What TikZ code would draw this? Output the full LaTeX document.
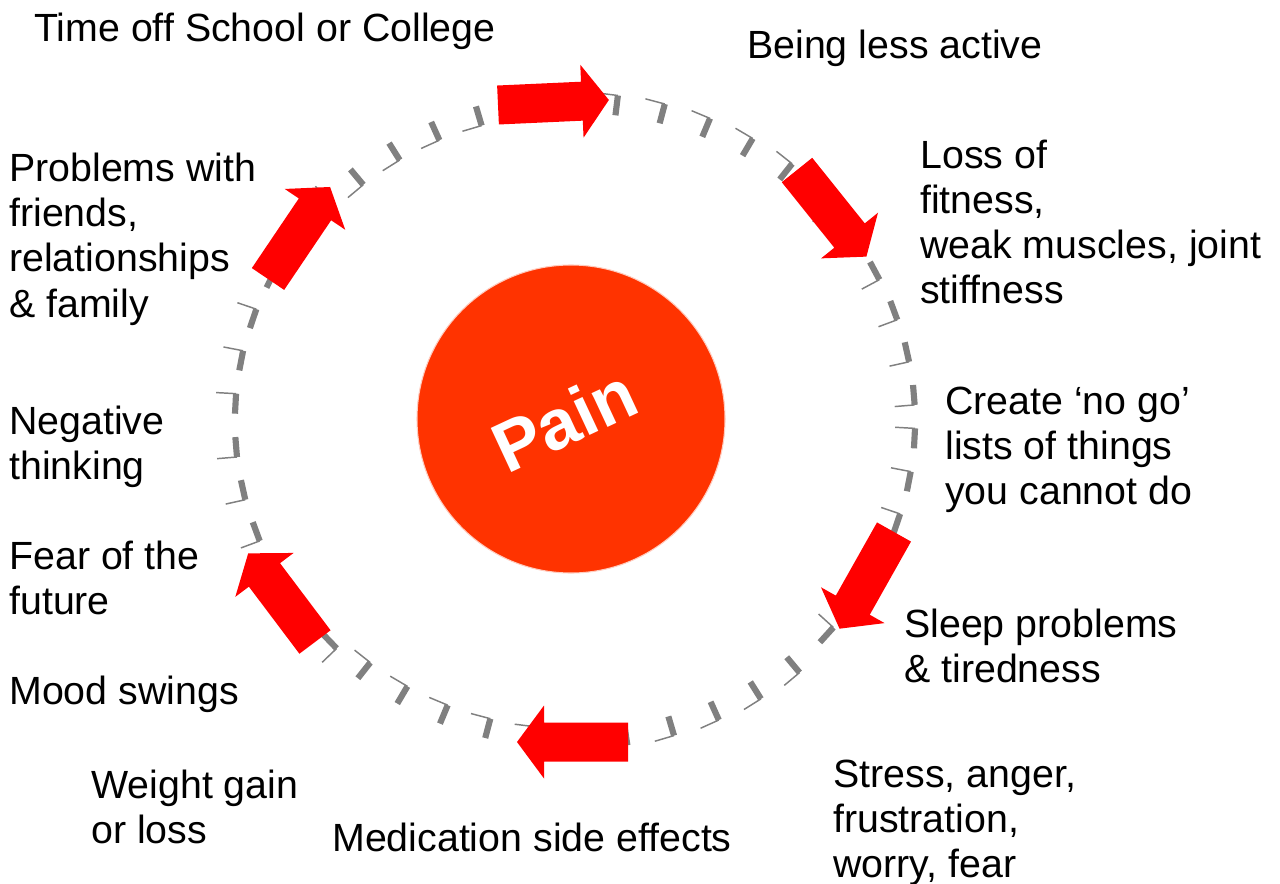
\documentclass[tikz,border=0pt]{standalone}
\usepackage{fontspec}
\setmainfont{Liberation Sans}
\definecolor{arrowred}{HTML}{FF0000}
\definecolor{painred}{HTML}{FF3300}
\definecolor{markgray}{HTML}{808080}
\newcommand\blockarrow[3]{%
  \begin{scope}[shift={(#1,#2)},rotate=#3]
    \fill[arrowred] (0,-19.5) -- (84,-19.5) -- (84,-36.5) -- (111,0) -- (84,36.5) -- (84,19.5) -- (0,19.5) -- cycle;
  \end{scope}}
\begin{document}
\begin{tikzpicture}[x=0.75pt,y=-0.75pt,
  lbl/.style={anchor=base west,inner sep=0pt,font=\fontsize{29.5}{33.75}\selectfont},
  markbar/.style={draw=markgray,line width=4.6pt},
  markthin/.style={draw=markgray,line width=1.1pt}]
\useasboundingbox (0,0) rectangle (1280,884);
\fill[white] (0,0) rectangle (1280,884);

% dashed ring marks
\foreach \k in {0,...,45}{
  \pgfmathsetmacro\ph{4.7+7.826*\k}
  \pgfmathsetmacro\c{cos(\ph)}
  \pgfmathsetmacro\s{sin(\ph)}
  \pgfmathsetmacro\px{575+340*(\c)}
  \pgfmathsetmacro\py{421-318*(\s)}
  \pgfmathsetmacro\side{abs(\c)>=abs(\s)?1:0}
  \pgfmathsetmacro\bx{\side>0.5?(-1)*(\s):(\c)}
  \pgfmathsetmacro\by{\side>0.5?(-1)*(\c):(-1)*(\s)}
  \pgfmathsetmacro\sg{\bx>=0?1:-1}
  \pgfmathsetmacro\jx{\px+10*(\sg)*(\bx)}
  \pgfmathsetmacro\jy{\py+10*(\sg)*(\by)}
  \pgfmathsetmacro\ex{\px-10*(\sg)*(\bx)}
  \pgfmathsetmacro\ey{\py-10*(\sg)*(\by)}
  \pgfmathsetmacro\tx{-20*abs(\by)}
  \pgfmathsetmacro\ty{\by>=0?20*(\bx):(-20)*(\bx)}
  \draw[markthin] (\jx,\jy) -- ++(\tx,\ty);
  \draw[markbar] (\ex,\ey) -- (\jx,\jy);
}

% red block arrows
\blockarrow{498}{105}{2.6}
\blockarrow{797}{170}{-51.3}
\blockarrow{894}{532}{-119.4}
\blockarrow{628}{742}{180}
\blockarrow{315}{642}{127}
\blockarrow{268}{279}{56}

% central circle
\node (pain) [circle,minimum size=231pt,inner sep=0pt,fill=painred,draw=painred!25,line width=0.8pt] at (571,419) {};
\node (paintext) [rotate=25,text=white,inner sep=0pt,font=\fontsize{53}{60}\selectfont\bfseries] at (564,420) {Pain};

% labels
\node[lbl] (school) at (34,42) {Time off School or College};
\node[lbl] (active) at (747,59) {Being less active};
\node[lbl] (fitness) at (920,169) {\begin{tabular}[t]{@{}l@{}}Loss of\\ fitness,\\ weak muscles, joint\\ stiffness\end{tabular}};
\node[lbl] (nogo) at (945,414) {\begin{tabular}[t]{@{}l@{}}Create ‘no go’\\ lists of things\\ you cannot do\end{tabular}};
\node[lbl] (sleep) at (904,637) {\begin{tabular}[t]{@{}l@{}}Sleep problems\\ \& tiredness\end{tabular}};
\node[lbl] (stress) at (833,787) {\begin{tabular}[t]{@{}l@{}}Stress, anger,\\ frustration,\\ worry, fear\end{tabular}};
\node[lbl] (medication) at (332,851) {Medication side effects};
\node[lbl] (weight) at (91,798) {\begin{tabular}[t]{@{}l@{}}Weight gain\\ or loss\end{tabular}};
\node[lbl] (mood) at (9,704) {Mood swings};
\node[lbl] (fear) at (9,569) {\begin{tabular}[t]{@{}l@{}}Fear of the\\ future\end{tabular}};
\node[lbl] (negative) at (9,434) {\begin{tabular}[t]{@{}l@{}}Negative\\ thinking\end{tabular}};
\node[lbl] (problems) at (9,182) {\begin{tabular}[t]{@{}l@{}}Problems with\\ friends,\\ relationships\\ \& family\end{tabular}};
\end{tikzpicture}
\end{document}
